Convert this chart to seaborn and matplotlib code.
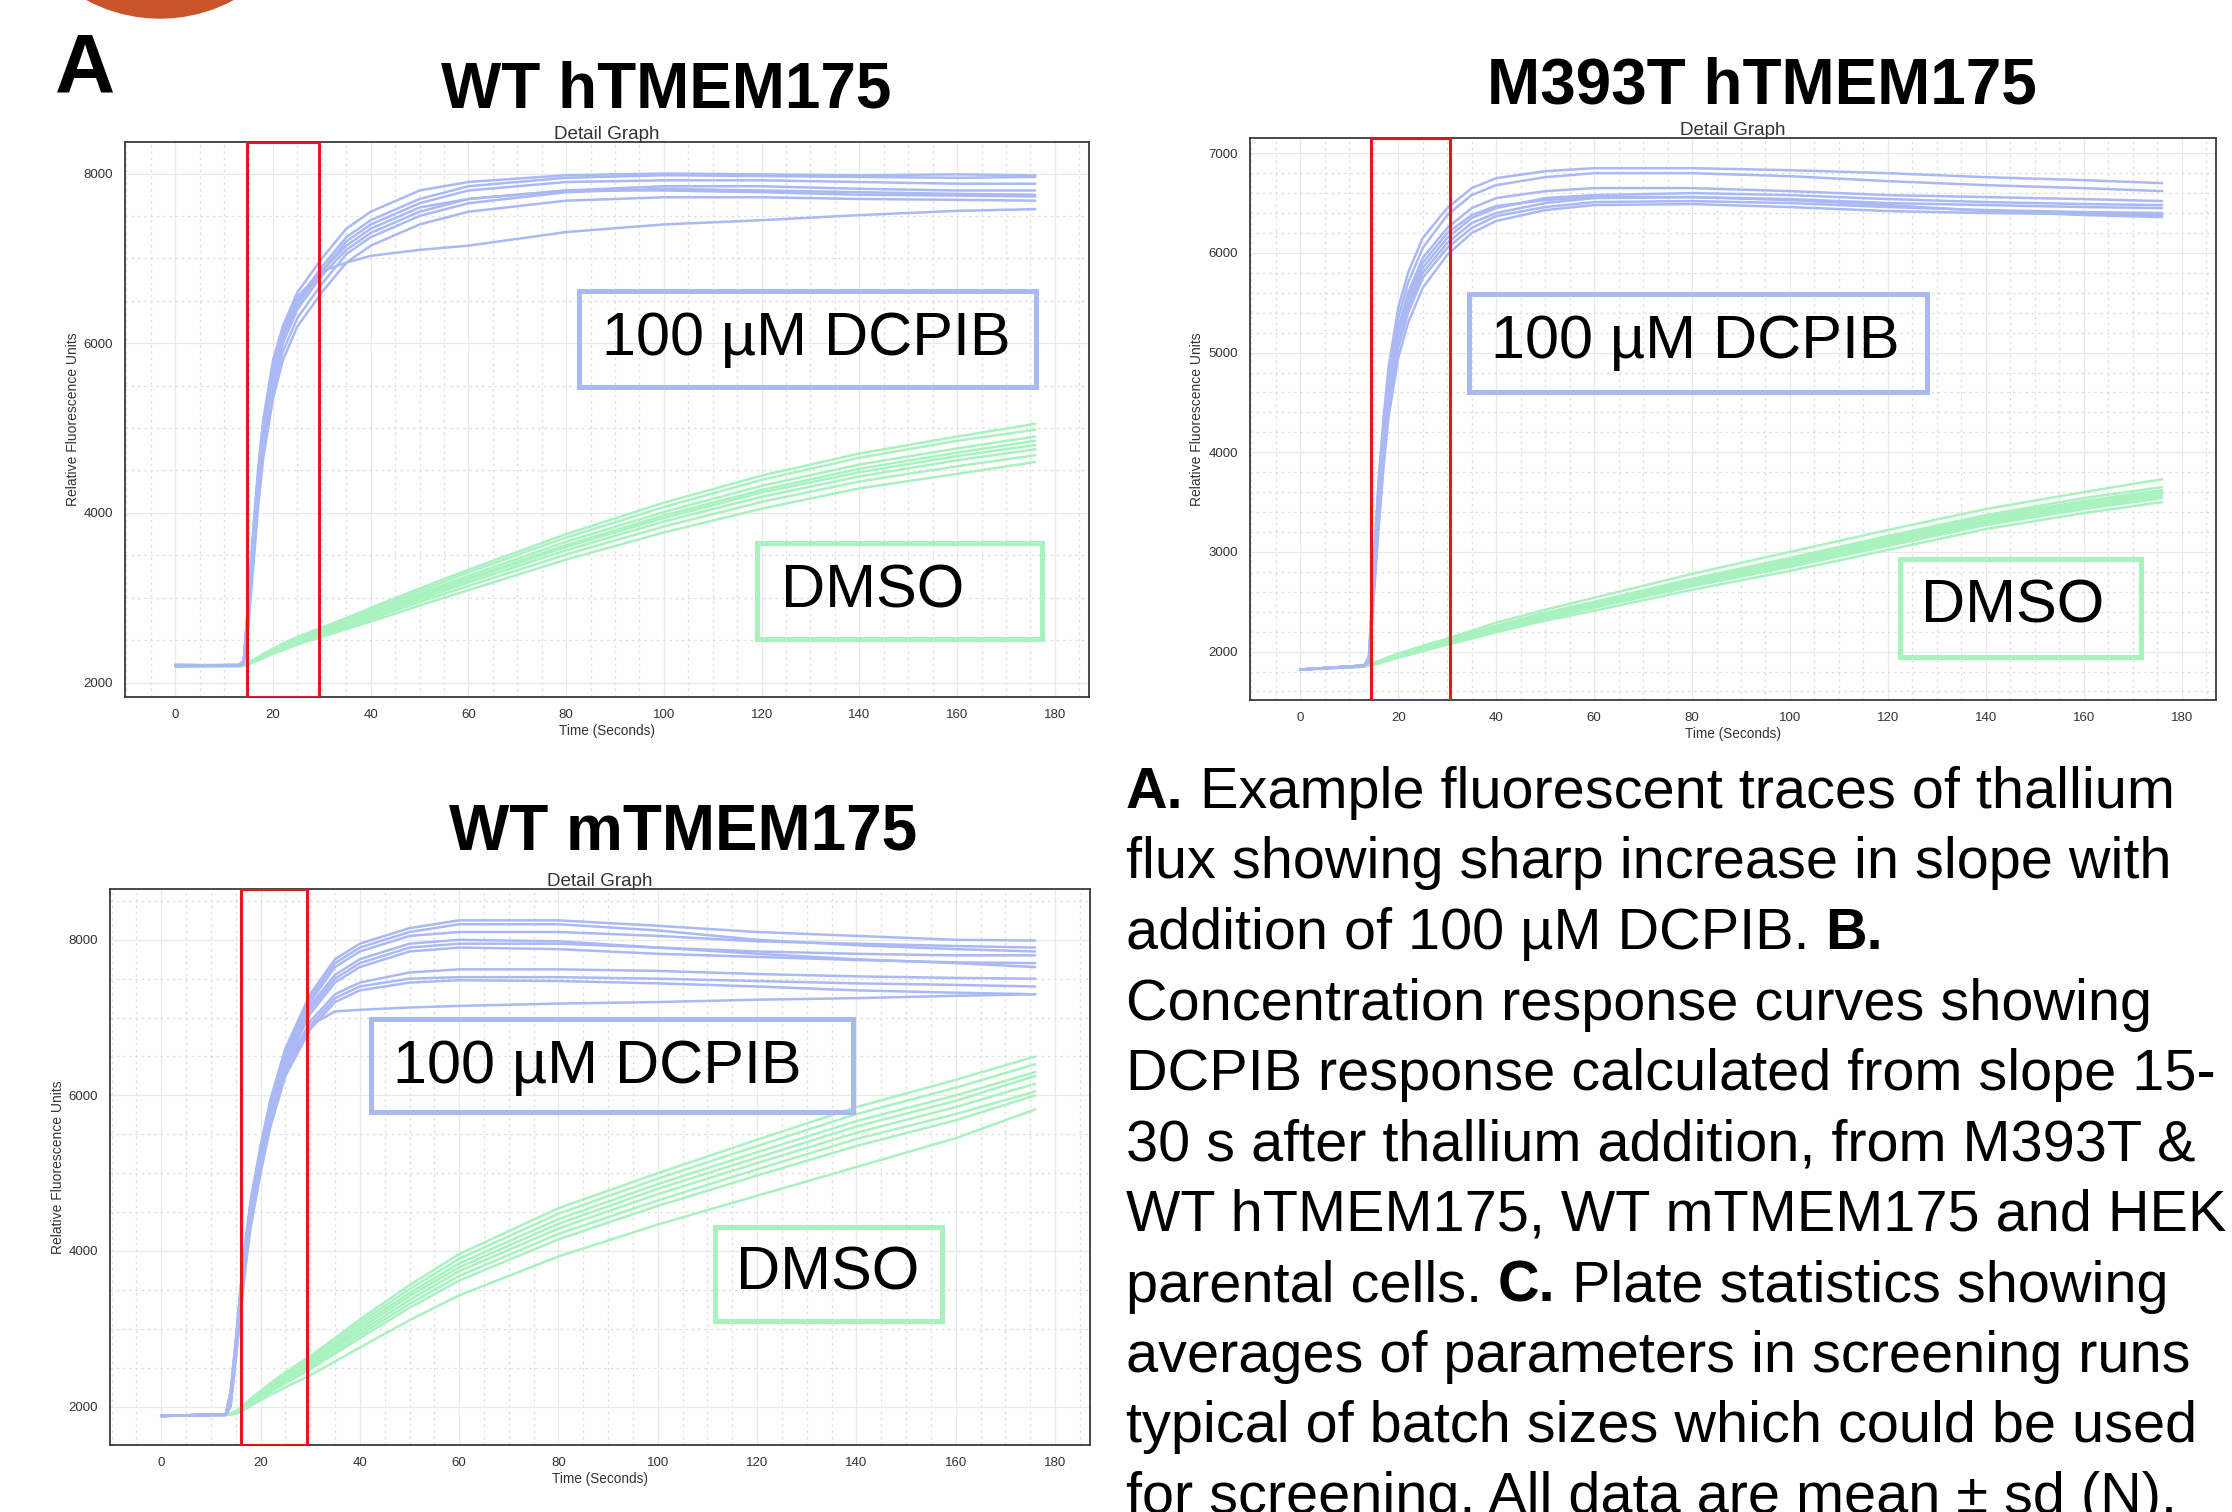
import pandas as pd
import matplotlib
matplotlib.use("Agg")
import matplotlib.pyplot as plt
from matplotlib.patches import Rectangle, Circle
from matplotlib.ticker import MultipleLocator
import seaborn as sns

# Tempos de leitura (s) comuns a todos os traços
t = [0, 13, 14, 15, 16, 17, 18, 20, 22, 25, 30, 35, 40, 50, 60, 80, 100, 120, 140, 160, 176]

# Painel 1: WT hTMEM175 - traços com DCPIB (azul) e DMSO (verde)
wt_h_dcpib = [
    [2200, 2210, 2260, 3000, 3850, 4550, 5100, 5800, 6200, 6600, 7000, 7350, 7550, 7800, 7900, 7980, 8000, 7990, 7980, 7990, 7980],
    [2210, 2200, 2240, 2900, 3700, 4400, 4950, 5650, 6100, 6500, 6900, 7250, 7450, 7700, 7850, 7950, 7980, 7970, 7960, 7950, 7960],
    [2200, 2200, 2230, 2800, 3600, 4300, 4850, 5550, 6000, 6400, 6800, 7100, 7300, 7550, 7700, 7800, 7850, 7850, 7820, 7800, 7800],
    [2190, 2200, 2220, 2750, 3500, 4200, 4750, 5450, 5900, 6300, 6700, 7050, 7250, 7500, 7650, 7780, 7820, 7800, 7780, 7760, 7750],
    [2200, 2210, 2250, 2850, 3650, 4350, 4900, 5600, 6050, 6450, 6850, 7150, 7350, 7600, 7700, 7800, 7800, 7780, 7750, 7740, 7730],
    [2200, 2200, 2230, 2700, 3400, 4100, 4650, 5350, 5800, 6200, 6600, 6950, 7150, 7400, 7550, 7680, 7720, 7720, 7700, 7690, 7680],
    [2210, 2200, 2240, 2950, 3750, 4450, 5000, 5700, 6100, 6500, 6850, 7200, 7400, 7650, 7800, 7900, 7920, 7920, 7900, 7880, 7880],
    [2200, 2200, 2250, 3000, 3800, 4500, 5050, 5750, 6150, 6550, 6850, 6950, 7030, 7100, 7150, 7310, 7400, 7450, 7510, 7560, 7580],
]
wt_h_dmso = [
    [2200, 2200, 2210, 2240, 2270, 2300, 2340, 2400, 2460, 2540, 2650, 2760, 2880, 3110, 3330, 3750, 4120, 4440, 4700, 4900, 5050],
    [2200, 2200, 2210, 2235, 2265, 2295, 2330, 2390, 2450, 2530, 2630, 2740, 2860, 3080, 3300, 3710, 4070, 4390, 4650, 4850, 4980],
    [2190, 2200, 2200, 2230, 2260, 2290, 2320, 2380, 2430, 2510, 2610, 2710, 2830, 3050, 3260, 3660, 4010, 4320, 4570, 4760, 4900],
    [2200, 2190, 2200, 2225, 2255, 2285, 2315, 2370, 2420, 2500, 2600, 2700, 2810, 3030, 3230, 3620, 3970, 4270, 4520, 4710, 4850],
    [2200, 2200, 2210, 2230, 2255, 2280, 2310, 2365, 2415, 2490, 2590, 2690, 2800, 3010, 3210, 3600, 3940, 4240, 4480, 4670, 4800],
    [2200, 2200, 2200, 2220, 2250, 2275, 2305, 2355, 2405, 2475, 2570, 2670, 2780, 2980, 3180, 3560, 3900, 4190, 4430, 4620, 4750],
    [2190, 2190, 2200, 2220, 2245, 2270, 2300, 2350, 2395, 2465, 2555, 2650, 2750, 2950, 3140, 3510, 3840, 4130, 4370, 4550, 4680],
    [2200, 2200, 2200, 2215, 2240, 2265, 2290, 2340, 2385, 2450, 2540, 2630, 2720, 2910, 3090, 3450, 3770, 4050, 4290, 4460, 4600],
]

# Painel 2: M393T hTMEM175
m393t_dcpib = [
    [1820, 1860, 1950, 2900, 3750, 4350, 4850, 5450, 5800, 6150, 6450, 6650, 6750, 6820, 6850, 6850, 6830, 6800, 6760, 6730, 6700],
    [1820, 1860, 1930, 2850, 3650, 4250, 4750, 5350, 5700, 6050, 6380, 6580, 6680, 6760, 6800, 6800, 6770, 6720, 6680, 6650, 6620],
    [1820, 1860, 1920, 2750, 3550, 4150, 4650, 5250, 5600, 5950, 6250, 6450, 6550, 6620, 6650, 6650, 6620, 6580, 6560, 6540, 6520],
    [1820, 1850, 1910, 2700, 3450, 4050, 4550, 5150, 5500, 5850, 6150, 6350, 6450, 6550, 6580, 6600, 6580, 6540, 6510, 6490, 6480],
    [1820, 1860, 1900, 2650, 3400, 4000, 4500, 5100, 5450, 5800, 6100, 6300, 6400, 6500, 6550, 6560, 6540, 6500, 6480, 6460, 6450],
    [1820, 1860, 1900, 2600, 3350, 3950, 4450, 5050, 5400, 5750, 6050, 6250, 6370, 6460, 6510, 6520, 6500, 6460, 6430, 6410, 6400],
    [1820, 1850, 1890, 2550, 3250, 3850, 4350, 4950, 5300, 5650, 5980, 6200, 6320, 6430, 6480, 6490, 6460, 6420, 6400, 6390, 6380],
    [1820, 1860, 1900, 2700, 3500, 4100, 4600, 5200, 5550, 5900, 6200, 6380, 6470, 6530, 6560, 6560, 6530, 6480, 6420, 6380, 6360],
]
m393t_dmso = [
    [1820, 1860, 1870, 1885, 1905, 1925, 1945, 1980, 2010, 2060, 2130, 2210, 2290, 2420, 2540, 2780, 3000, 3220, 3430, 3600, 3730],
    [1820, 1860, 1870, 1880, 1900, 1920, 1935, 1970, 2000, 2045, 2115, 2190, 2260, 2390, 2500, 2730, 2940, 3160, 3370, 3540, 3650],
    [1820, 1850, 1865, 1880, 1895, 1915, 1930, 1965, 1995, 2040, 2110, 2180, 2250, 2370, 2480, 2710, 2920, 3140, 3350, 3510, 3620],
    [1820, 1860, 1870, 1880, 1895, 1910, 1925, 1960, 1990, 2035, 2100, 2170, 2240, 2360, 2470, 2700, 2900, 3120, 3330, 3490, 3600],
    [1820, 1860, 1865, 1875, 1890, 1905, 1920, 1955, 1985, 2030, 2095, 2160, 2230, 2350, 2460, 2685, 2885, 3100, 3310, 3470, 3580],
    [1820, 1850, 1860, 1870, 1885, 1900, 1915, 1950, 1980, 2020, 2085, 2150, 2220, 2340, 2450, 2670, 2870, 3080, 3290, 3450, 3560],
    [1820, 1860, 1865, 1875, 1885, 1900, 1915, 1945, 1975, 2015, 2080, 2145, 2210, 2330, 2440, 2655, 2850, 3060, 3270, 3430, 3540],
    [1820, 1860, 1860, 1870, 1880, 1895, 1910, 1940, 1965, 2005, 2070, 2130, 2195, 2310, 2410, 2620, 2810, 3020, 3230, 3390, 3500],
]

# Painel 3: WT mTMEM175
wt_m_dcpib = [
    [1880, 1900, 2200, 2850, 3550, 4150, 4650, 5350, 5950, 6600, 7300, 7750, 7950, 8150, 8250, 8250, 8180, 8100, 8050, 8000, 7990],
    [1880, 1900, 2150, 2800, 3500, 4100, 4600, 5300, 5900, 6550, 7200, 7650, 7850, 8050, 8100, 8100, 8050, 7980, 7950, 7920, 7900],
    [1880, 1900, 2100, 2700, 3400, 4000, 4500, 5200, 5800, 6450, 7100, 7500, 7700, 7900, 7950, 7950, 7900, 7850, 7820, 7800, 7800],
    [1880, 1890, 2100, 2700, 3350, 3950, 4450, 5150, 5750, 6400, 7050, 7450, 7650, 7850, 7900, 7880, 7820, 7780, 7740, 7710, 7700],
    [1880, 1900, 2050, 2650, 3300, 3900, 4400, 5100, 5700, 6350, 6950, 7300, 7450, 7580, 7620, 7620, 7600, 7560, 7530, 7510, 7500],
    [1880, 1900, 2050, 2600, 3250, 3850, 4350, 5050, 5650, 6300, 6900, 7250, 7400, 7500, 7520, 7520, 7500, 7470, 7440, 7420, 7400],
    [1880, 1890, 2000, 2600, 3200, 3800, 4300, 5000, 5600, 6250, 6850, 7200, 7350, 7450, 7480, 7470, 7440, 7400, 7350, 7320, 7300],
    [1880, 1900, 2100, 2750, 3450, 4050, 4550, 5250, 5850, 6450, 6900, 7080, 7100, 7130, 7150, 7180, 7200, 7230, 7250, 7280, 7300],
    [1880, 1900, 2150, 2750, 3450, 4050, 4550, 5250, 5850, 6500, 7150, 7550, 7750, 7950, 8000, 7980, 7900, 7820, 7750, 7700, 7650],
    [1880, 1900, 2200, 2800, 3500, 4100, 4600, 5300, 5900, 6550, 7250, 7700, 7900, 8100, 8200, 8200, 8120, 8000, 7930, 7880, 7850],
]
wt_m_dmso = [
    [1880, 1900, 1910, 1940, 1990, 2040, 2100, 2200, 2300, 2440, 2650, 2880, 3120, 3560, 3960, 4550, 5000, 5430, 5850, 6200, 6500],
    [1880, 1900, 1910, 1935, 1980, 2030, 2085, 2180, 2280, 2410, 2620, 2850, 3080, 3510, 3900, 4480, 4930, 5350, 5760, 6100, 6400],
    [1880, 1900, 1905, 1930, 1970, 2020, 2070, 2160, 2260, 2390, 2590, 2810, 3040, 3460, 3840, 4410, 4860, 5270, 5670, 6000, 6300],
    [1880, 1895, 1905, 1925, 1965, 2010, 2060, 2150, 2240, 2370, 2560, 2780, 3000, 3420, 3790, 4350, 4800, 5200, 5600, 5930, 6250],
    [1880, 1900, 1900, 1920, 1960, 2000, 2050, 2140, 2230, 2350, 2540, 2750, 2960, 3370, 3740, 4290, 4730, 5130, 5520, 5850, 6150],
    [1880, 1900, 1900, 1915, 1950, 1990, 2040, 2120, 2210, 2330, 2510, 2710, 2920, 3320, 3680, 4220, 4650, 5050, 5440, 5760, 6050],
    [1880, 1895, 1900, 1910, 1940, 1980, 2030, 2110, 2190, 2300, 2480, 2680, 2880, 3270, 3620, 4150, 4580, 4970, 5350, 5680, 6000],
    [1880, 1900, 1900, 1910, 1935, 1970, 2010, 2080, 2150, 2250, 2400, 2580, 2760, 3110, 3430, 3930, 4340, 4710, 5080, 5450, 5820],
]

# Títulos, janelas de análise (15-30 s) e limites dos eixos de cada painel
titulos = ["WT hTMEM175", "M393T hTMEM175", "WT mTMEM175"]
janela_inicio = [14.6, 14.4, 16.1]
janela_fim = [29.5, 30.6, 29.4]
ylims = [(1830, 8370), (1514, 7157), (1506, 8658)]
y_major = [2000, 1000, 2000]
y_minor = [500, 200, 500]

legenda_caption = [
    [("A.", "bold"), (" Example fluorescent traces of thallium", "normal")],
    [("flux showing sharp increase in slope with", "normal")],
    [("addition of 100 µM DCPIB. ", "normal"), ("B.", "bold")],
    [("Concentration response curves showing", "normal")],
    [("DCPIB response calculated from slope 15-", "normal")],
    [("30 s after thallium addition, from M393T &", "normal")],
    [("WT hTMEM175, WT mTMEM175 and HEK", "normal")],
    [("parental cells. ", "normal"), ("C.", "bold"), (" Plate statistics showing", "normal")],
    [("averages of parameters in screening runs", "normal")],
    [("typical of batch sizes which could be used", "normal")],
    [("for screening. All data are mean ± sd (N).", "normal")],
]

AZUL = "#aab9f4"
VERDE = "#a8f2bf"

sns.set_style("white")
plt.rcParams["font.family"] = ["Liberation Sans", "DejaVu Sans"]
plt.rcParams["text.color"] = "black"


def monta_df(dcpib, dmso):
    partes = []
    for i, v in enumerate(dmso):
        partes.append(pd.DataFrame({"t": t, "rfu": v, "traco": f"dmso{i}", "grupo": "DMSO"}))
    for i, v in enumerate(dcpib):
        partes.append(pd.DataFrame({"t": t, "rfu": v, "traco": f"dcpib{i}", "grupo": "DCPIB"}))
    return pd.concat(partes, ignore_index=True)


def desenha_painel(ax, df, k, caixa_dcpib, caixa_dmso):
    sns.lineplot(data=df, x="t", y="rfu", hue="grupo", units="traco", estimator=None,
                 palette={"DCPIB": AZUL, "DMSO": VERDE}, legend=False, lw=1.8, ax=ax)
    ax.set_xlim(-10.3, 187)
    ax.set_ylim(*ylims[k])
    ax.xaxis.set_major_locator(MultipleLocator(20))
    ax.xaxis.set_minor_locator(MultipleLocator(5))
    ax.yaxis.set_major_locator(MultipleLocator(y_major[k]))
    ax.yaxis.set_minor_locator(MultipleLocator(y_minor[k]))
    ax.grid(which="major", color="#e9e9e9", lw=0.9, ls="-")
    ax.grid(which="minor", color="#dedede", lw=0.9, ls=(0, (2, 3)))
    ax.set_axisbelow(True)
    for s in ax.spines.values():
        s.set_color("#3a3a3a")
        s.set_linewidth(1.3)
    ax.tick_params(which="major", direction="out", length=5, width=1, colors="#3a3a3a",
                   labelsize=9.5, labelcolor="#333333")
    ax.tick_params(which="minor", direction="out", length=3, width=1, colors="#3a3a3a")
    ax.set_xlabel("Time (Seconds)", fontsize=9.8, color="#333333", labelpad=2)
    ax.set_ylabel("Relative Fluorescence Units", fontsize=10, color="#333333", labelpad=3)
    ax.set_title("Detail Graph", fontsize=13.6, color="#333333", pad=2)

    # janela 15-30 s em vermelho
    ax.axvspan(janela_inicio[k], janela_fim[k], fill=False, ec="#e4171d", lw=2.2, zorder=4)

    # caixas de rótulo
    for (x0, x1, y0, y1, tx, ty, txt, cor) in [caixa_dcpib + ("100 µM DCPIB", AZUL),
                                                caixa_dmso + ("DMSO", VERDE)]:
        ax.add_patch(Rectangle((x0, y0), x1 - x0, y1 - y0, transform=ax.transAxes,
                               fill=False, ec=cor, lw=3.6, zorder=5))
        ax.text(tx, ty, txt, transform=ax.transAxes, fontsize=44, ha="left", va="center",
                color="black", zorder=6)


fig = plt.figure(figsize=(22.32, 15.12), dpi=100)

# eixo de fundo em coordenadas de pixel, para textos soltos
bg = fig.add_axes([0, 0, 1, 1], zorder=0)
bg.set_xlim(0, 2232)
bg.set_ylim(1512, 0)
bg.axis("off")

ax1 = fig.add_axes([0.0560, 0.539, 0.4319, 0.367])
ax2 = fig.add_axes([0.5600, 0.537, 0.4328, 0.372])
ax3 = fig.add_axes([0.0493, 0.0443, 0.4390, 0.368])

desenha_painel(ax1, monta_df(wt_h_dcpib, wt_h_dmso), 0,
               (0.471, 0.945, 0.559, 0.731, 0.495, 0.644),
               (0.656, 0.951, 0.105, 0.277, 0.680, 0.190))
desenha_painel(ax2, monta_df(m393t_dcpib, m393t_dmso), 1,
               (0.227, 0.701, 0.547, 0.722, 0.250, 0.635),
               (0.673, 0.922, 0.076, 0.251, 0.695, 0.165))
desenha_painel(ax3, monta_df(wt_m_dcpib, wt_m_dmso), 2,
               (0.266, 0.758, 0.598, 0.765, 0.289, 0.678),
               (0.617, 0.849, 0.223, 0.391, 0.639, 0.307))

# títulos dos painéis
for (x, y), titulo in zip([(666, 90), (1762, 87), (683, 833)], titulos):
    bg.text(x, y, titulo, fontsize=46, fontweight="bold", ha="center", va="center")

# letra do painel e o círculo laranja cortado no topo
bg.add_patch(Circle((160, -137), 155, color="#c9542b"))
bg.text(85, 71, "A", fontsize=60, fontweight="bold", ha="center", va="center")

# legenda da figura à direita
y = 793
for linha in legenda_caption:
    anterior = None
    for txt, peso in linha:
        if anterior is None:
            anterior = bg.text(1126, y, txt, fontsize=41.5, fontweight=peso, ha="left", va="center")
        else:
            anterior = bg.annotate(txt, xy=(1, 0), xycoords=anterior, fontsize=41.5,
                                   fontweight=peso, ha="left", va="bottom")
    y += 70.5

fig.savefig("out.png", dpi=100)
